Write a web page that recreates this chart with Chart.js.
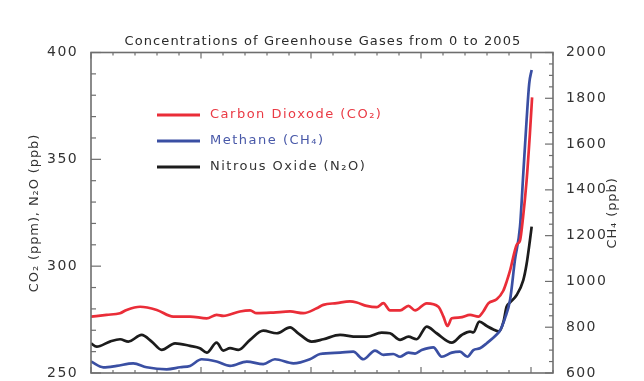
<!DOCTYPE html>
<html><head><meta charset="utf-8">
<script src="https://cdn.jsdelivr.net/npm/chart.js@4.4.0/dist/chart.umd.min.js"></script>
<style>html,body{margin:0;padding:0;overflow:hidden;background:#fff}canvas{display:block}</style>
</head><body>
<canvas id="c" width="644" height="430"></canvas>
<script>
const titleText = 'Concentrations of Greenhouse Gases from 0 to 2005';
const seriesLabels = ['Carbon Dioxode (CO\u2082)', 'Methane (CH\u2084)', 'Nitrous Oxide (N\u2082O)'];
const leftAxisTitle = 'CO\u2082 (ppm), N\u2082O (ppb)';
const rightAxisTitle = 'CH\u2084 (ppb)';

const xTicks = [0, 500, 1000, 1500, 2000];
const leftTicks = [250, 300, 350, 400];
const rightTicks = [600, 800, 1000, 1200, 1400, 1600, 1800, 2000];

const co2Years = [0, 71, 132, 162, 223, 299, 374, 450, 526, 571, 601, 677, 723, 753, 829, 905, 965, 1026, 1056, 1117, 1177, 1208, 1253, 1299, 1329, 1359, 1405, 1443, 1473, 1526, 1579, 1602, 1620, 1640, 1678, 1723, 1761, 1783, 1806, 1844, 1874, 1890, 1905, 1935, 1950, 1964, 1980, 1995, 2005];
const co2Values = [276.4, 277.2, 278, 279.5, 281, 279.5, 276.4, 276.4, 275.6, 277.2, 276.7, 278.8, 279.3, 278, 278.3, 278.8, 278, 280.3, 281.9, 282.7, 283.5, 283, 281.4, 280.8, 282.7, 279.3, 279.3, 281.4, 279.3, 282.6, 281, 276.4, 272, 275.6, 276, 277.2, 276.4, 278.8, 282.6, 284.5, 288.5, 293, 298, 310, 312, 323, 340, 362, 379];

const ch4Years = [0, 56, 117, 192, 253, 344, 405, 450, 503, 571, 632, 708, 783, 836, 920, 995, 1041, 1132, 1192, 1238, 1291, 1329, 1374, 1405, 1443, 1473, 1503, 1556, 1594, 1640, 1677, 1711, 1738, 1768, 1799, 1844, 1859, 1882, 1905, 1927, 1950, 1965, 1980, 1992, 2003];
const ch4Values = [650, 625, 631, 642, 625, 616, 625, 631, 660, 650, 631, 650, 639, 660, 642, 660, 683, 689, 693, 660, 698, 679, 683, 671, 689, 685, 700, 712, 671, 689, 693, 671, 700, 708, 730, 768, 785, 840, 920, 1094, 1239, 1472, 1705, 1865, 1924];

const n2oYears = [0, 26, 86, 132, 170, 230, 276, 321, 382, 450, 495, 526, 571, 601, 632, 670, 723, 783, 844, 905, 942, 1003, 1056, 1132, 1208, 1253, 1321, 1359, 1405, 1443, 1480, 1526, 1571, 1640, 1685, 1723, 1738, 1765, 1799, 1829, 1855, 1875, 1889, 1905, 1935, 1965, 1980, 1995, 2003];
const n2oValues = [263.9, 262.3, 264.7, 265.8, 264.7, 267.8, 264.7, 260.8, 263.9, 262.7, 261.6, 259.5, 264.2, 260.5, 261.6, 260.8, 265.5, 269.8, 268.6, 271.4, 268.6, 264.7, 265.8, 267.8, 267, 267, 268.9, 268.6, 265.5, 267, 265.8, 271.7, 268.6, 264.2, 267.8, 269.4, 269, 274, 272, 270.4, 269.5, 274, 281, 283, 286.5, 293.5, 301, 312, 318.5];

const colors = ['#ea2d38', '#3a4fa3', '#1c1c1c'];
const textColors = ['#ea3a44', '#4858a8', '#333333'];

const pts = (xs, ys) => xs.map((x, i) => ({x, y: ys[i]}));

const FONT = '"DejaVu Sans", sans-serif';

const spacing = {
  id: 'spacing',
  beforeDraw(chart) { chart.ctx.letterSpacing = '1.4px'; },
  afterDraw(chart) { chart.ctx.letterSpacing = '0px'; }
};

const frame = {
  id: 'frame',
  afterDatasetsDraw(chart) {
    const {ctx, chartArea: a, scales} = chart;
    ctx.save();
    ctx.strokeStyle = '#6e6e6e';
    const ln = (x1, y1, x2, y2) => { ctx.beginPath(); ctx.moveTo(x1, y1); ctx.lineTo(x2, y2); ctx.stroke(); };
    ctx.lineWidth = 1.2;
    const xs = scales.x;
    for (let v = xs.min; v <= xs.max; v += 100) {
      const p = xs.getPixelForValue(v);
      const L = v % 500 === 0 ? 6 : 3;
      ln(p, a.bottom, p, a.bottom - L);
      ln(p, a.top, p, a.top + L);
    }
    const yl = scales.y;
    for (let v = yl.min; v <= yl.max; v += 10) {
      const p = yl.getPixelForValue(v);
      ln(a.left, p, a.left + (v % 50 === 0 ? 10 : 5), p);
    }
    const yr = scales.y1;
    for (let v = yr.min; v <= yr.max; v += 50) {
      const p = yr.getPixelForValue(v);
      ln(a.right, p, a.right - (v % 200 === 0 ? 8 : 4), p);
    }
    ctx.lineWidth = 1.6;
    ctx.strokeRect(a.left, a.top, a.right - a.left, a.bottom - a.top);
    ctx.restore();
  }
};

const texts = {
  id: 'texts',
  afterDraw(chart) {
    const ctx = chart.ctx;
    ctx.save();
    ctx.textBaseline = 'middle';
    ctx.font = '13px ' + FONT;
    ctx.letterSpacing = '1.1px';
    ctx.fillStyle = '#2a2a2a';
    ctx.textAlign = 'center';
    ctx.fillText(titleText, 323, 42);

    ctx.letterSpacing = '1.5px';
    ctx.textAlign = 'left';
    chart.data.datasets.forEach((ds, i) => {
      const y = 115 + i * 26;
      ctx.strokeStyle = ds.borderColor;
      ctx.lineWidth = 3;
      ctx.beginPath(); ctx.moveTo(157, y); ctx.lineTo(200, y); ctx.stroke();
      ctx.fillStyle = textColors[i];
      ctx.fillText(ds.label, 210, y);
    });

    ctx.letterSpacing = '0.9px';
    ctx.fillStyle = '#333';
    ctx.textAlign = 'center';
    ctx.save(); ctx.translate(35, 213); ctx.rotate(-Math.PI / 2); ctx.fillText(leftAxisTitle, 0, 0); ctx.restore();
    ctx.save(); ctx.translate(613, 213); ctx.rotate(-Math.PI / 2); ctx.fillText(rightAxisTitle, 0, 0); ctx.restore();
    ctx.restore();
  }
};

const tickFont = {family: FONT, size: 14};
const plain = v => String(v);

new Chart(document.getElementById('c'), {
  type: 'line',
  data: {
    datasets: [
      {label: seriesLabels[0], data: pts(co2Years, co2Values), yAxisID: 'y', borderColor: colors[0]},
      {label: seriesLabels[1], data: pts(ch4Years, ch4Values), yAxisID: 'y1', borderColor: colors[1]},
      {label: seriesLabels[2], data: pts(n2oYears, n2oValues), yAxisID: 'y', borderColor: colors[2]}
    ]
  },
  options: {
    responsive: false,
    animation: false,
    layout: {padding: {top: 52.5, left: 0, right: 0, bottom: 0}},
    elements: {
      point: {radius: 0},
      line: {borderWidth: 2.7, tension: 0.4, cubicInterpolationMode: 'monotone', fill: false}
    },
    plugins: {legend: {display: false}, title: {display: false}, tooltip: {enabled: false}},
    scales: {
      x: {
        type: 'linear', min: 0, max: 2100,
        grid: {display: false}, border: {display: false},
        afterBuildTicks: s => { s.ticks = xTicks.map(v => ({value: v})); },
        afterFit: s => { s.height = 57; },
        ticks: {font: tickFont, color: '#333', padding: 8, callback: plain}
      },
      y: {
        position: 'left', min: 250, max: 400,
        grid: {display: false}, border: {display: false},
        afterBuildTicks: s => { s.ticks = leftTicks.map(v => ({value: v})); },
        afterFit: s => { s.width = 91; },
        ticks: {font: tickFont, color: '#333', padding: 5, callback: plain}
      },
      y1: {
        position: 'right', min: 600, max: 2000,
        grid: {display: false}, border: {display: false},
        afterBuildTicks: s => { s.ticks = rightTicks.map(v => ({value: v})); },
        afterFit: s => { s.width = 91; },
        ticks: {font: tickFont, color: '#333', padding: 5, callback: plain}
      }
    }
  },
  plugins: [spacing, frame, texts]
});
</script>
</body></html>
